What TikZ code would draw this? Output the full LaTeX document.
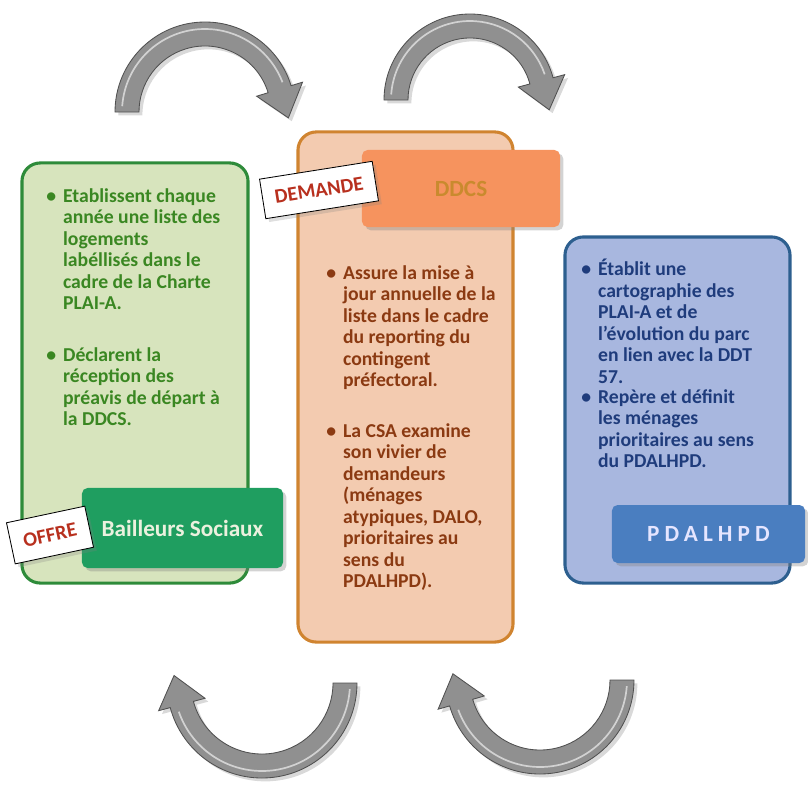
\documentclass[tikz,border=0pt]{standalone}
\usepackage{fontspec}
\setmainfont{Carlito}
\usepackage{tikz}
\usetikzlibrary{positioning, calc, shadows}
\definecolor{offrefill}{HTML}{D7E4BD}
\definecolor{offreborder}{HTML}{2E8B3A}
\definecolor{offretext}{HTML}{3A8722}
\definecolor{bailleursgreen}{HTML}{1F9E60}
\definecolor{demandefill}{HTML}{F3CBB0}
\definecolor{demandeborder}{HTML}{D08430}
\definecolor{demandetext}{HTML}{8B3A12}
\definecolor{ddcsorange}{HTML}{F6935E}
\definecolor{ddcstext}{HTML}{C98A2E}
\definecolor{planfill}{HTML}{A8B7DF}
\definecolor{planborder}{HTML}{2D5F8F}
\definecolor{plantext}{HTML}{1F3C7C}
\definecolor{pdalhpdblue}{HTML}{4A7EC0}
\definecolor{tagred}{HTML}{B8301E}
\definecolor{arrowgray}{HTML}{909090}
\definecolor{arrowdark}{HTML}{505050}

\tikzset{
  panel/.style={draw, line width=2.2pt, rounded corners=13pt},
  header/.style={rounded corners=4pt, drop shadow={opacity=0.35}, font=\bfseries\fontsize{16.5}{19}\selectfont},
  tag/.style={draw=black, fill=white, line width=0.6pt, drop shadow={opacity=0.25}, font=\bfseries\fontsize{14.5}{16}\selectfont},
  bodytext/.style={anchor=north west, inner sep=0pt, font=\bfseries\fontsize{14}{15.3}\selectfont},
  arrowbody/.style={fill=arrowgray, draw=arrowdark, line width=0.6pt, drop shadow={opacity=0.3}}
}

% bullet + block of lines
\newcommand{\puce}{\textbullet\hspace{5pt}}
\newcommand{\lignes}[1]{\begin{tabular}[t]{@{}l@{}}#1\end{tabular}}
% curved grey arrow: centre, radius, start angle, end angle
\newcommand{\boucle}[4]{%
  \filldraw[arrowbody] ($#1+(#3:#2+12)$) arc[start angle=#3, end angle=#4, radius=#2+12]
    -- ($#1+(#4:#2+24)$) -- ($#1+(#4:#2)+(#4+90:30)$) -- ($#1+(#4:#2-24)$)
    -- ($#1+(#4:#2-12)$) arc[start angle=#4, end angle=#3, radius=#2-12] -- cycle;
  \draw[white, opacity=0.6, line width=1.2pt] ($#1+(#3+4:#2+5)$) arc[start angle=#3+4, end angle=#4-4, radius=#2+5];
}

\begin{document}
\begin{tikzpicture}[x=0.025cm, y=-0.025cm]
    \useasboundingbox (0,0) rectangle (808,789);

    % Arrows
    \boucle{(205,112)}{78}{180}{343}
    \boucle{(470,100)}{74}{180}{345}
    \boucle{(262,683)}{83}{0}{165}
    \boucle{(540,680)}{82}{0}{164}

    % Offre box
    \node (offre) [panel, draw=offreborder, fill=offrefill, minimum width=5.65cm, minimum height=10.5cm] at (135,373) {};
    \node (gt1) [bodytext, text=offretext] at (46,187) {\puce\lignes{Etablissent chaque\\année une liste des\\logements\\labéllisés dans le\\cadre de la Charte\\PLAI-A.}};
    \node (gt2) [bodytext, text=offretext] at (46,346) {\puce\lignes{Déclarent la\\réception des\\préavis de départ à\\la DDCS.}};
    \node (bailleurs) [header, fill=bailleursgreen, text=offrefill!50!white, minimum width=5.025cm, minimum height=2cm] at (182.5,528) {Bailleurs Sociaux};
    \node (offretag) [tag, text=tagred, rotate=12, minimum width=2cm, minimum height=1.05cm] at (50,535) {OFFRE};

    % Demande box
    \node (demande) [panel, draw=demandeborder, fill=demandefill, minimum width=5.375cm, minimum height=12.75cm] at (405.5,387) {};
    \node (ddcs) [header, fill=ddcsorange, text=ddcstext, minimum width=4.95cm, minimum height=1.925cm] at (461,188.5) {DDCS};
    \node (demandetag) [tag, text=tagred, rotate=9, minimum width=2.85cm, minimum height=1.0cm] at (319,190) {DEMANDE};
    \node (ot1) [bodytext, text=demandetext] at (326,264) {\puce\lignes{Assure la mise à\\jour annuelle de la\\liste dans le cadre\\du reporting du\\contingent\\préfectoral.}};
    \node (ot2) [bodytext, text=demandetext] at (326,422) {\puce\lignes{La CSA examine\\son vivier de\\demandeurs\\(ménages\\atypiques, DALO,\\prioritaires au\\sens du\\PDALHPD).}};

    % Plan box
    \node (plan) [panel, draw=planborder, fill=planfill, minimum width=5.625cm, minimum height=8.65cm] at (677.5,410) {};
    \node (bt1) [bodytext, text=plantext] at (581,259) {\puce\lignes{Établit une\\cartographie des\\PLAI-A et de\\l'évolution du parc\\en lien avec la DDT\\57.}};
    \node (bt2) [bodytext, text=plantext] at (581,388) {\puce\lignes{Repère et définit\\les ménages\\prioritaires au sens\\du PDALHPD.}};
    \node (pdalhpd) [header, fill=pdalhpdblue, text=white!90!blue, minimum width=4.825cm, minimum height=1.45cm] at (708.5,534) {\addfontfeature{LetterSpace=22}PDALHPD};
\end{tikzpicture}
\end{document}
